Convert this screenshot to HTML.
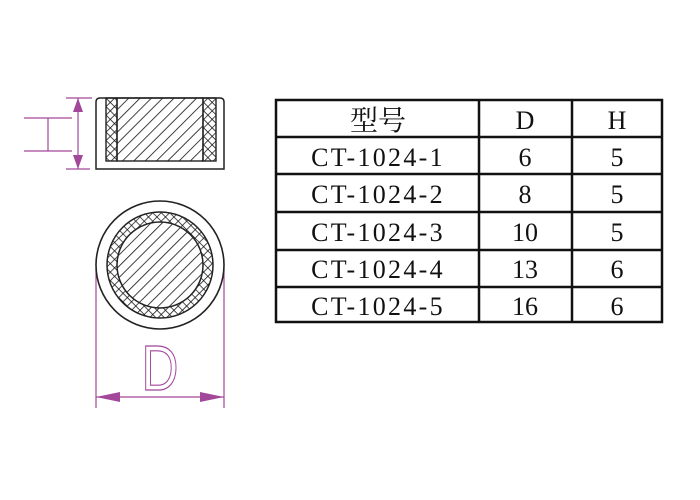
<!DOCTYPE html>
<html><head><meta charset="utf-8"><style>
body{margin:0;background:#fff;width:700px;height:500px;overflow:hidden}
svg{position:absolute;left:0;top:0}
</style></head><body>
<svg width="700" height="500" viewBox="0 0 700 500" xmlns="http://www.w3.org/2000/svg">
<defs>
<pattern id="h" patternUnits="userSpaceOnUse" width="8" height="8" patternTransform="rotate(45)">
<line x1="0" y1="0" x2="0" y2="8" stroke="#111" stroke-width="1.6"/>
</pattern>
<pattern id="x" patternUnits="userSpaceOnUse" width="6" height="6" patternTransform="rotate(45)">
<line x1="0" y1="0" x2="0" y2="6" stroke="#111" stroke-width="1.5"/>
<line x1="0" y1="0" x2="6" y2="0" stroke="#111" stroke-width="1.5"/>
</pattern>
</defs>
<!-- side view -->
<path d="M96 169 V102 Q96 98 100 98 H220 Q224 98 224 102 V169 Z" fill="none" stroke="#222" stroke-width="1.5"/>
<rect x="106" y="98" width="11" height="63" fill="url(#x)" stroke="#222" stroke-width="1.4"/>
<rect x="203" y="98" width="13" height="63" fill="url(#x)" stroke="#222" stroke-width="1.4"/>
<rect x="117" y="98" width="86" height="63" fill="url(#h)" stroke="#222" stroke-width="1.4"/>
<!-- dimensions -->
<g stroke="#a3479b" stroke-width="1.2" fill="none">
<line x1="66" y1="98" x2="92" y2="98"/><line x1="66" y1="169" x2="90" y2="169"/>
<line x1="78" y1="98" x2="78" y2="169"/>
<line x1="24" y1="118" x2="72" y2="118"/><line x1="24" y1="151" x2="72" y2="151"/>
<line x1="48" y1="118" x2="48" y2="151"/>
<line x1="96" y1="268" x2="96" y2="408"/><line x1="224" y1="268" x2="224" y2="408"/>
<line x1="96" y1="397" x2="224" y2="397"/>
</g>
<g fill="#a3479b">
<polygon points="78,98 73,112 83,112"/><polygon points="78,169 73,155 83,155"/>
<polygon points="96,397 120,392 120,402"/><polygon points="224,397 200,392 200,402"/>
</g>
<text x="160" y="390" text-anchor="middle" font-family="Liberation Sans, sans-serif" font-size="64" fill="none" stroke="#a3479b" stroke-width="1.2" transform="translate(160 0) scale(0.8 1) translate(-160 0)">D</text>
<!-- top view -->
<circle cx="160" cy="265" r="64" fill="none" stroke="#222" stroke-width="1.6"/>
<circle cx="160" cy="265" r="48" fill="none" stroke="url(#x)" stroke-width="10"/>
<circle cx="160" cy="265" r="53" fill="none" stroke="#222" stroke-width="1.5"/>
<circle cx="160" cy="265" r="43" fill="url(#h)" stroke="#222" stroke-width="1.5"/>
<!-- table -->
<g stroke="#111" stroke-width="2.5" fill="none">
<rect x="276" y="100" width="386" height="222"/>
<line x1="276" y1="137" x2="662" y2="137"/><line x1="276" y1="174" x2="662" y2="174"/>
<line x1="276" y1="212" x2="662" y2="212"/><line x1="276" y1="250" x2="662" y2="250"/>
<line x1="276" y1="287" x2="662" y2="287"/>
<line x1="479" y1="100" x2="479" y2="322"/><line x1="572" y1="100" x2="572" y2="322"/>
</g>
<g font-family="Liberation Serif, 'Noto Serif CJK SC', serif" font-size="26" fill="#111" text-anchor="middle">
<text x="378" y="130" font-family="'Noto Serif CJK SC', serif" font-size="28">型号</text>
<text x="525" y="129">D</text><text x="617" y="129">H</text>
<g letter-spacing="2.3">
<text x="378" y="166">CT-1024-1</text><text x="378" y="203">CT-1024-2</text>
<text x="378" y="241">CT-1024-3</text><text x="378" y="278">CT-1024-4</text>
<text x="378" y="315">CT-1024-5</text>
</g>
<text x="525" y="166">6</text><text x="617" y="166">5</text>
<text x="525" y="203">8</text><text x="617" y="203">5</text>
<text x="525" y="241">10</text><text x="617" y="241">5</text>
<text x="525" y="278">13</text><text x="617" y="278">6</text>
<text x="525" y="315">16</text><text x="617" y="315">6</text>
</g>
</svg>
</body></html>
